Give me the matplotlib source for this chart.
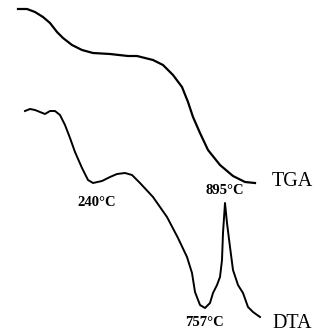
import matplotlib.pyplot as plt
import numpy as np

# TGA curve: temperature (degC) vs signal (arbitrary units)
tga_temp = [-145, -100, -60, -20, 15, 50, 80, 125, 175, 230, 315, 405, 450, 530,
            580, 630, 675, 705, 730, 765, 805, 865, 930, 990, 1040]
tga_sig = [327, 327, 324, 319, 313, 304, 298, 291, 286, 283, 282, 280, 280, 276,
           271, 261, 249, 234, 219, 203, 186, 171, 160, 154, 153]

# DTA curve
dta_temp = [-110, -85, -60, -35, -10, 15, 40, 65, 90, 115, 140, 175, 205, 230,
            275, 315, 350, 390, 425, 465, 530, 600, 655, 700, 725, 740, 765, 790,
            815, 830, 850, 865, 875, 880, 890, 900, 915, 930, 955, 980, 1005,
            1030, 1065]
dta_sig = [225, 227, 226, 224, 222, 225, 225, 221, 211, 198, 184, 168, 156, 153,
           155, 159, 162, 163, 161, 153, 139, 119, 98, 79, 63, 44, 31, 28,
           33, 43, 51, 59, 76, 103, 133, 113, 89, 66, 51, 43, 29,
           24, 19]

peaks = ["240°C", "895°C", "757°C"]
peak_temp = [250, 890, 785]
peak_sig = [134, 145, 13]

fig = plt.figure(figsize=(3.31, 3.36), dpi=100)
ax = fig.add_axes([0, 0, 1, 1])
ax.plot(tga_temp, tga_sig, color="black", lw=1.6, solid_joinstyle="round")
ax.plot(dta_temp, dta_sig, color="black", lw=1.4, solid_joinstyle="round")

for lab, t, s in zip(peaks, peak_temp, peak_sig):
    ax.text(t, s, lab, ha="center", va="center", fontsize=10.5,
            family="Liberation Serif", fontweight="bold")
ax.text(1228, 154, "TGA", ha="center", va="center", fontsize=14.5,
        family="Liberation Serif")
ax.text(1228, 13, "DTA", ha="center", va="center", fontsize=14.5,
        family="Liberation Serif")

ax.set_xlim(-235, 1420)
ax.set_ylim(0, 336)
ax.axis("off")
fig.savefig("out.png", dpi=100)
